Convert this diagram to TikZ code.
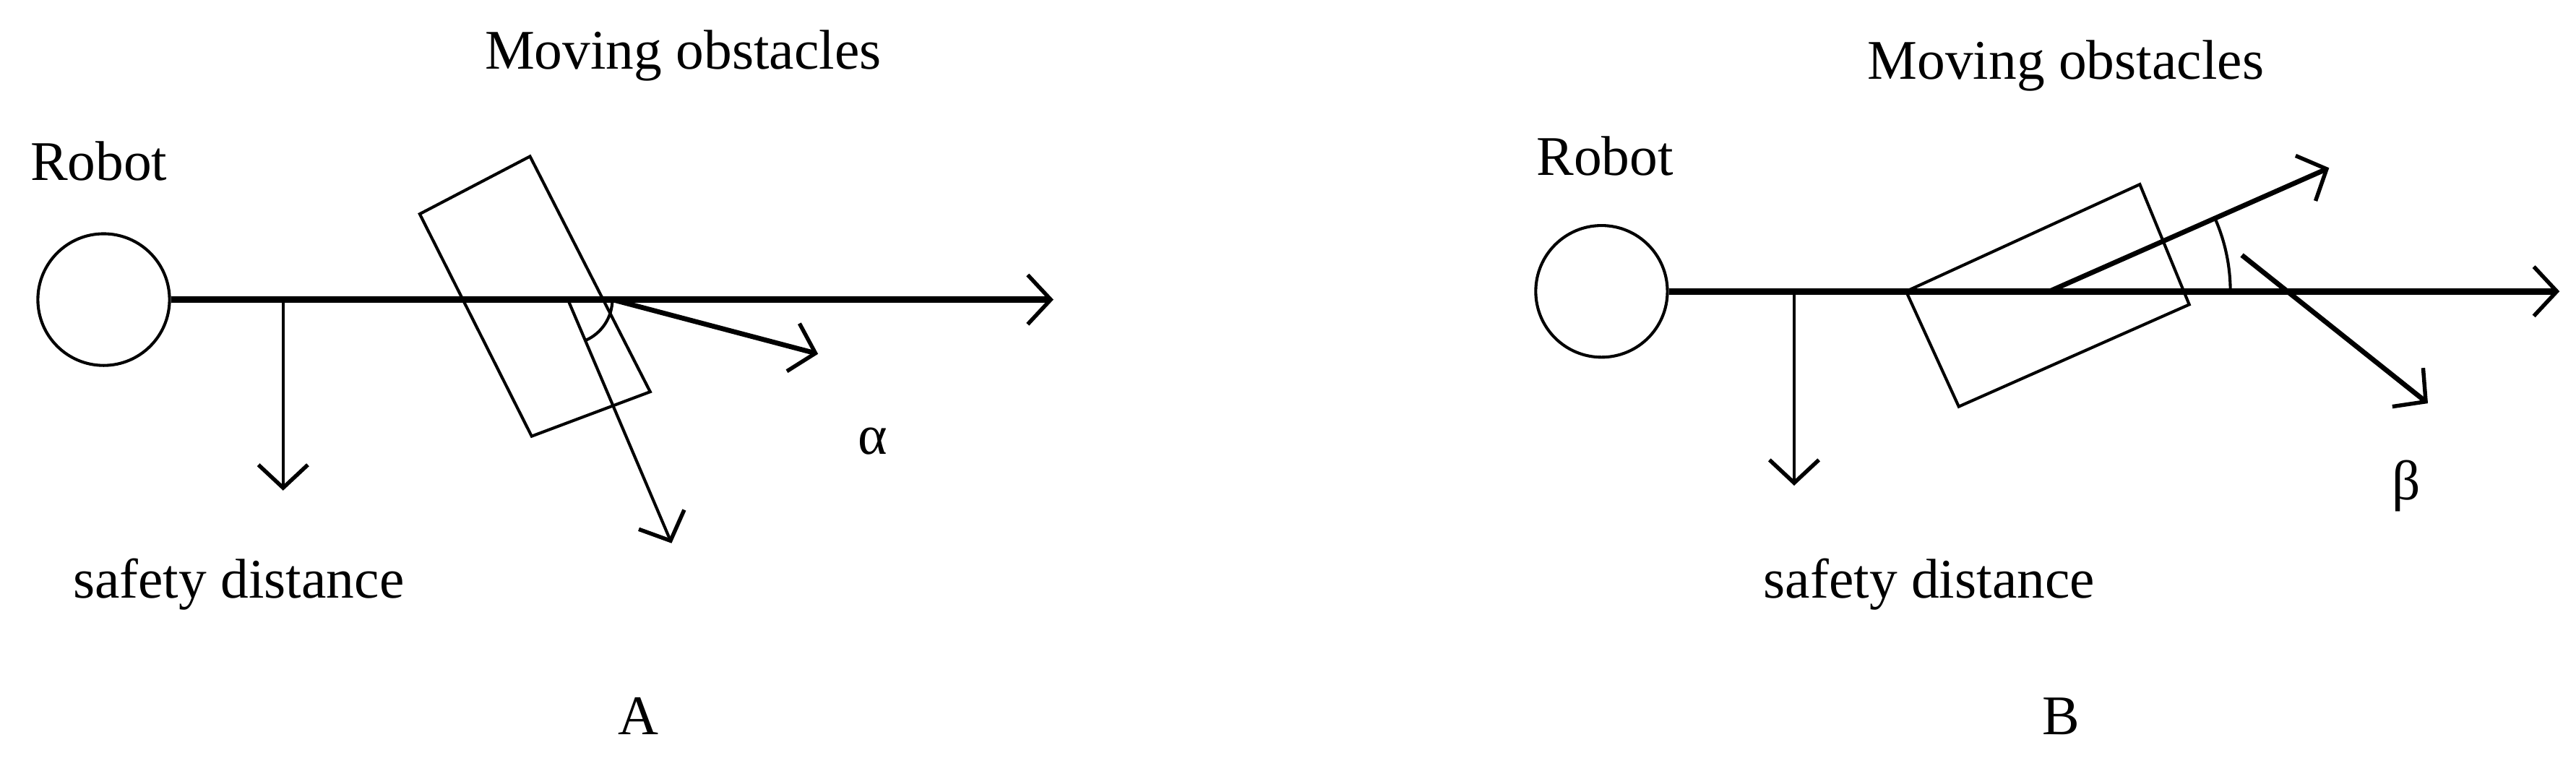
\documentclass[tikz,border=0pt]{standalone}
\usepackage{fontspec}
\setmainfont{Liberation Serif}
\usetikzlibrary{arrows.meta}
\begin{document}
\begin{tikzpicture}[x=1pt,y=-1pt,
  lbl/.style={font=\fontsize{34}{38}\selectfont, inner sep=0pt},
  thin1/.style={line width=1.8pt},
  thick1/.style={line width=4pt},
  tip/.style={-{Straight Barb[length=14pt,width=30pt,line width=2.4pt]}}]
\useasboundingbox (0,0) rectangle (1565,465);
% ---- A ----
\node[draw, circle, thin1, minimum size=80pt, inner sep=0pt] (ra) at (63,182) {};
\coordinate (ea) at (640,182);
\draw[thick1, tip] (ra.east) -- (ea);
\coordinate (sa0) at (172,182); \coordinate (sa1) at (172,298);
\draw[thin1, tip] (sa0) -- (sa1);
\draw[thin1] (322,95) -- (255,130) -- (323,265) -- (395,238) -- cycle;
\coordinate (va0) at (345,182); \coordinate (va1) at (408,330);
\draw[thin1, tip] (va0) -- (va1);
\coordinate (aa0) at (372,182); \coordinate (aa1) at (497,215);
\draw[line width=3pt, tip] (aa0) -- (aa1);
\draw[thin1] (372,182) arc[start angle=0, end angle=67, radius=27];
\node[lbl] (robA) at (60,98) {Robot};
\node[lbl] (movA) at (415,34) {Moving obstacles};
\node[lbl] (safA) at (145,355) {safety distance};
\node[lbl] (alp) at (530,268) {α};
\node[lbl] (labA) at (388,435) {A};
% ---- B ----
\node[draw, circle, thin1, minimum size=80pt, inner sep=0pt] (rb) at (973,177) {};
\coordinate (eb) at (1555,177);
\draw[thick1, tip] (rb.east) -- (eb);
\coordinate (sb0) at (1090,177); \coordinate (sb1) at (1090,295);
\draw[thin1, tip] (sb0) -- (sb1);
\draw[thin1] (1158,177) -- (1300,112) -- (1330,185) -- (1190,247) -- cycle;
\coordinate (vb0) at (1245,177); \coordinate (vb1) at (1415,102);
\draw[line width=3pt, tip] (vb0) -- (vb1);
\draw[thin1] (1355,177) arc[start angle=0, end angle=-24, radius=110];
\coordinate (bb0) at (1362,155); \coordinate (bb1) at (1475,245);
\draw[line width=3pt, tip] (bb0) -- (bb1);
\node[lbl] (robB) at (975,95) {Robot};
\node[lbl] (movB) at (1255,40) {Moving obstacles};
\node[lbl] (safB) at (1172,355) {safety distance};
\node[lbl] (bet) at (1462,295) {β};
\node[lbl] (labB) at (1252,435) {B};
\end{tikzpicture}
\end{document}
